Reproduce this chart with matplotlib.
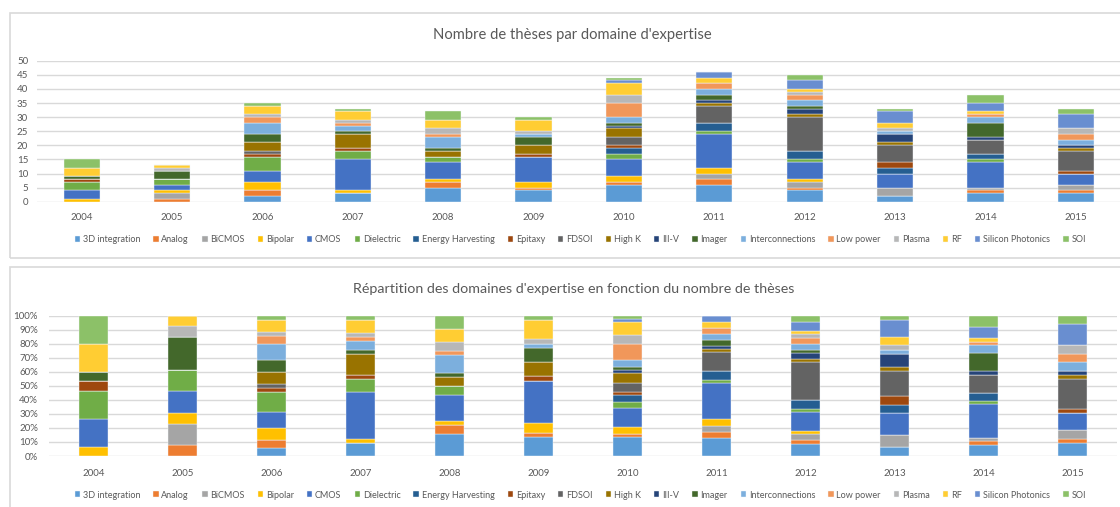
import matplotlib
matplotlib.use("Agg")
import matplotlib.pyplot as plt
import numpy as np
from matplotlib.patches import Rectangle

years = ["2004", "2005", "2006", "2007", "2008", "2009",
         "2010", "2011", "2012", "2013", "2014", "2015"]

# Number of theses per expertise domain and year
integration_3d = [0, 0, 2, 3, 5, 4, 6, 6, 4, 2, 3, 3]
analog = [0, 1, 2, 0, 2, 1, 1, 2, 1, 0, 1, 1]
bicmos = [0, 2, 0, 0, 0, 0, 0, 2, 2, 3, 1, 2]
bipolar = [1, 1, 3, 1, 1, 2, 2, 2, 1, 0, 0, 0]
cmos = [3, 2, 4, 11, 6, 9, 6, 12, 6, 5, 9, 4]
dielectric = [3, 2, 5, 3, 2, 0, 2, 1, 1, 0, 1, 0]
energy_harvesting = [0, 0, 0, 0, 0, 0, 2, 3, 3, 2, 2, 0]
epitaxy = [1, 0, 1, 1, 0, 1, 1, 0, 0, 2, 0, 1]
fdsoi = [0, 0, 1, 0, 0, 0, 3, 6, 12, 6, 5, 7]
high_k = [0, 0, 3, 5, 2, 3, 3, 1, 1, 1, 0, 1]
iii_v = [0, 0, 0, 0, 0, 0, 1, 1, 2, 3, 1, 1]
imager = [1, 3, 3, 1, 1, 3, 1, 2, 1, 0, 5, 0]
interconnections = [0, 0, 4, 2, 4, 1, 2, 2, 2, 1, 2, 2]
low_power = [0, 0, 2, 1, 1, 0, 5, 2, 2, 0, 1, 2]
plasma = [0, 1, 1, 1, 2, 1, 3, 0, 1, 1, 0, 2]
rf = [3, 1, 3, 3, 3, 4, 4, 2, 1, 2, 1, 0]
silicon_photonics = [0, 0, 0, 0, 0, 0, 1, 2, 3, 4, 3, 5]
soi = [3, 0, 1, 1, 3, 1, 1, 0, 2, 1, 3, 2]

series = [
    ("3D integration", integration_3d, "#5B9BD5"),
    ("Analog", analog, "#ED7D31"),
    ("BiCMOS", bicmos, "#A5A5A5"),
    ("Bipolar", bipolar, "#FFC000"),
    ("CMOS", cmos, "#4472C4"),
    ("Dielectric", dielectric, "#70AD47"),
    ("Energy Harvesting", energy_harvesting, "#255E91"),
    ("Epitaxy", epitaxy, "#9E480E"),
    ("FDSOI", fdsoi, "#636363"),
    ("High K", high_k, "#997300"),
    ("III-V", iii_v, "#264478"),
    ("Imager", imager, "#43682B"),
    ("Interconnections", interconnections, "#7CAFDD"),
    ("Low power", low_power, "#F1975A"),
    ("Plasma", plasma, "#B7B7B7"),
    ("RF", rf, "#FFCD33"),
    ("Silicon Photonics", silicon_photonics, "#698ED0"),
    ("SOI", soi, "#8CC168"),
]

TEXT = "#595959"
GRID = "#D9D9D9"
plt.rcParams["font.family"] = ["Lato", "DejaVu Sans"]

W, H = 1120, 507
fig = plt.figure(figsize=(W / 100, H / 100), dpi=100)


def px_axes(left, top, right, bottom):
    return fig.add_axes([left / W, 1 - bottom / H, (right - left) / W, (bottom - top) / H])


def frame(left, top, right, bottom):
    fig.patches.append(Rectangle((left / W, 1 - bottom / H), (right - left) / W,
                                 (bottom - top) / H, transform=fig.transFigure,
                                 fill=False, edgecolor=GRID, linewidth=1.2))


def style(ax):
    for s in ax.spines.values():
        s.set_visible(False)
    ax.yaxis.grid(True, color=GRID, linewidth=1)
    ax.set_axisbelow(True)
    ax.tick_params(length=0, labelsize=7, labelcolor=TEXT)
    ax.set_xticks(x)
    ax.set_xticklabels(years)
    ax.set_xlim(-0.5, len(years) - 0.5)


x = np.arange(len(years))
totals = np.sum([vals for _, vals, _ in series], axis=0)

frame(9.5, 13, 1130, 258)
frame(9.5, 267, 1130, 520)

# Absolute counts
ax1 = px_axes(36.5, 60.7, 1121, 201.7)
style(ax1)
bottom = np.zeros(len(years))
for name, vals, color in series:
    ax1.bar(x, vals, 0.40, bottom=bottom, color=color, edgecolor="#F4F7FB",
            linewidth=0.3, label=name)
    bottom += np.array(vals)
ax1.set_ylim(0, 50)
ax1.set_yticks(range(0, 51, 5))
ax1.tick_params(axis="y", pad=6)
ax1.tick_params(axis="x", pad=8)
fig.text(0.511, 1 - 35 / H, "Nombre de thèses par domaine d'expertise",
         ha="center", va="center", fontsize=10.6, color=TEXT)

# Share of each domain per year
ax2 = px_axes(49, 315.7, 1117, 456)
style(ax2)
bottom = np.zeros(len(years))
for name, vals, color in series:
    share = np.array(vals) / totals
    ax2.bar(x, share, 0.32, bottom=bottom, color=color, edgecolor="#F4F7FB",
            linewidth=0.3)
    bottom += share
ax2.set_ylim(0, 1)
ax2.set_yticks(np.arange(0, 1.01, 0.1))
ax2.set_yticklabels([f"{p}%" for p in range(0, 101, 10)])
ax2.tick_params(axis="y", pad=8)
ax2.tick_params(axis="x", pad=9)
fig.text(0.512, 1 - 289 / H,
         "Répartition des domaines d'expertise en fonction du nombre de thèses",
         ha="center", va="center", fontsize=10.3, color=TEXT)

handles, labels = ax1.get_legend_handles_labels()
for ypix in (240, 495):
    fig.legend(handles, labels, loc="center", bbox_to_anchor=(0.518, 1 - ypix / H),
               ncol=len(series), frameon=False, fontsize=6.5, labelcolor=TEXT,
               handlelength=0.6, handleheight=0.6, handletextpad=0.3,
               columnspacing=1.45, borderaxespad=0)

fig.savefig("out.png", dpi=100)
plt.close(fig)
